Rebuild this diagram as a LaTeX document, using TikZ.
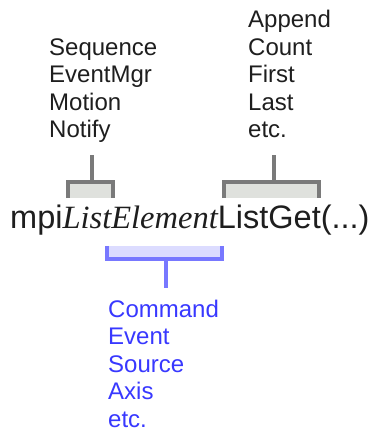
\documentclass[tikz,border=0pt]{standalone}
\usepackage{fontspec}
\setmainfont{Liberation Sans}
\newfontfamily\serifit{Liberation Serif}
\usepackage{tikz}
\usetikzlibrary{positioning, calc}
\definecolor{brgray}{HTML}{7A7A7A}
\definecolor{brgrayfill}{HTML}{DFE1DD}
\definecolor{brblue}{HTML}{7878FF}
\definecolor{brbluefill}{HTML}{DCDCFF}
\definecolor{txblue}{HTML}{3838FF}
\definecolor{txdark}{HTML}{1E1E1E}

\begin{document}
\begin{tikzpicture}[
  x=1pt, y=-1pt,
  words/.style={
    font=\fontsize{24}{27.5}\selectfont, align=left,
    inner sep=0pt, anchor=base west, text=txdark
  },
  brace/.style={
    rectangle, inner sep=0pt, draw=none, fill=#1,
    minimum height=16pt
  },
  gline/.style={line width=4pt, color=brgray},
  bline/.style={line width=4pt, color=brblue},
]
\useasboundingbox (0,0) rectangle (373,430);

% Name of the call
\node[font=\fontsize{32.5}{36}\selectfont, inner sep=0pt, anchor=base west,
      text=txdark] (call) at (10,228)
  {mpi{\serifit\itshape ListElement}ListGet(...)};

% Upper brackets
\node[brace=brgrayfill, minimum width=45pt] (obj) at (90.5,190) {};
\node[brace=brgrayfill, minimum width=95pt] (get) at (271.5,190) {};
\draw[gline] (obj.south west) -- (obj.north west) -- (obj.north east)
  -- (obj.south east);
\draw[gline] (get.south west) -- (get.north west) -- (get.north east)
  -- (get.south east);
\draw[gline] ([xshift=1.5pt]obj.north) -- ++(0,-27);
\draw[gline] ([xshift=2.5pt]get.north) -- ++(0,-27);

% Lower bracket
\node[brace=brbluefill, minimum width=115pt, minimum height=13pt]
  (elem) at (164.5,252.5) {};
\draw[bline] (elem.north west) -- (elem.south west) -- (elem.south east)
  -- (elem.north east);
\draw[bline] ([xshift=1pt]elem.south) -- ++(0,29);

% Lists (anchored at the last line)
\node[words] (owners) at (49,138) {Sequence\\EventMgr\\Motion\\Notify};
\node[words] (methods) at (248,138) {Append\\Count\\First\\Last\\etc.};
\node[words, text=txblue] (kinds) at (108,427)
  {Command\\Event\\Source\\Axis\\etc.};

\end{tikzpicture}
\end{document}
